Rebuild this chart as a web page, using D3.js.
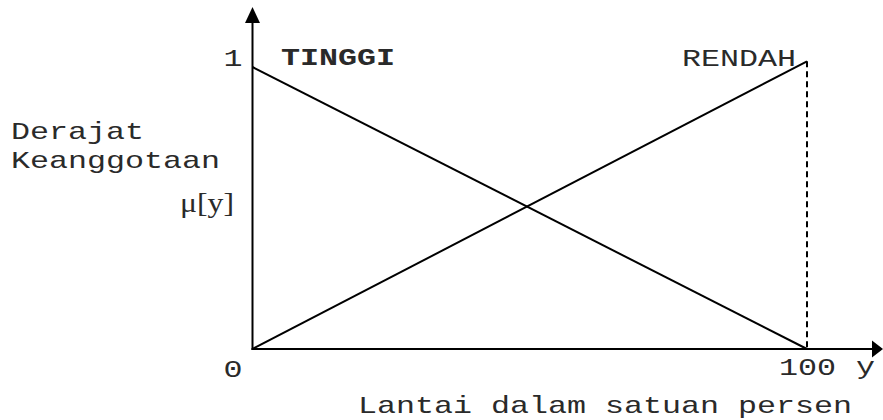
<!DOCTYPE html>
<html>
<head>
<meta charset="utf-8">
<script src="https://cdn.jsdelivr.net/npm/d3@7"></script>
<style>
  body { margin: 0; background: #fff; }
  svg { display: block; }
  .mono { font-family: "Liberation Mono", "Courier New", monospace; font-size: 24px; fill: #2a2a2a; }
  .serif { font-family: "Liberation Serif", "Times New Roman", serif; font-size: 27px; fill: #2a2a2a; }
</style>
</head>
<body>
<div id="wrapper"></div>
<script>
// data
const xDomain = [0, 100]
const yDomain = [0, 1]
const tinggi = [{x: 0, y: 1}, {x: 100, y: 0}]
const rendah = [{x: 0, y: 0}, {x: 100, y: 1.02}]
const xTickLabels = ["0", "100"]
const yTickLabels = ["0", "1"]
const yTitle = ["Derajat", "Keanggotaan"]
const yUnit = "μ[y]"
const xTitle = "Lantai dalam satuan persen"
const seriesNames = ["TINGGI", "RENDAH"]

function drawChart() {
  const dimensions = { width: 883, height: 420 }
  const pitch = 19 // stretched monospace character width

  const svg = d3.select("#wrapper")
    .append("svg")
      .attr("width", dimensions.width)
      .attr("height", dimensions.height)

  const xScale = d3.scaleLinear().domain(xDomain).range([252.5, 807])
  const yScale = d3.scaleLinear().domain(yDomain).range([349, 67])

  const x0 = xScale(0), y0 = yScale(0)

  // axes with arrows
  svg.append("line")
      .attr("x1", x0).attr("x2", x0)
      .attr("y1", y0 + 1).attr("y2", 20)
      .attr("stroke", "#000").attr("stroke-width", 2)
  svg.append("path")
      .attr("d", `M${x0},7 L${x0 - 7.5},23 L${x0 + 7.5},23 Z`)
      .attr("fill", "#000")

  svg.append("line")
      .attr("x1", x0 - 1).attr("x2", 875)
      .attr("y1", y0).attr("y2", y0)
      .attr("stroke", "#000").attr("stroke-width", 2)
  svg.append("path")
      .attr("d", `M883,${y0} L872,${y0 - 8.5} L872,${y0 + 8.5} Z`)
      .attr("fill", "#000")

  // dashed drop line at 100
  const rEnd = rendah[rendah.length - 1]
  svg.append("line")
      .attr("x1", xScale(rEnd.x)).attr("x2", xScale(rEnd.x))
      .attr("y1", yScale(rEnd.y)).attr("y2", y0)
      .attr("stroke", "#000").attr("stroke-width", 2)
      .attr("stroke-dasharray", "6,4")

  // membership lines
  const lineGenerator = d3.line()
    .x(d => xScale(d.x))
    .y(d => yScale(d.y))

  ;[tinggi, rendah].forEach(s => {
    svg.append("path")
        .attr("d", lineGenerator(s))
        .attr("fill", "none")
        .attr("stroke", "#000")
        .attr("stroke-width", 2)
  })

  const stretched = (text, x, y, cls) => svg.append("text")
      .attr("class", cls || "mono")
      .attr("x", x).attr("y", y)
      .attr("textLength", text.length * pitch)
      .attr("lengthAdjust", "spacingAndGlyphs")
      .text(text)

  // tick labels
  stretched(yTickLabels[1], x0 - 29, yScale(1) - 1)
  stretched(xTickLabels[0], x0 - 29, y0 + 28)
  stretched(xTickLabels[1], xScale(100) - 28, y0 + 26)
  stretched("y", 856, y0 + 25)

  // series labels
  stretched(seriesNames[0], 281, yScale(1) - 2).style("font-weight", "bold")
  stretched(seriesNames[1], 682, yScale(1) - 1)

  // axis titles
  stretched(yTitle[0], 11, 139)
  stretched(yTitle[1], 11, 168)
  svg.append("text")
      .attr("class", "serif")
      .attr("x", 180).attr("y", 212)
      .attr("textLength", 54)
      .attr("lengthAdjust", "spacingAndGlyphs")
      .text(yUnit)
  stretched(xTitle, 358, 413)
}
drawChart()
</script>
</body>
</html>
